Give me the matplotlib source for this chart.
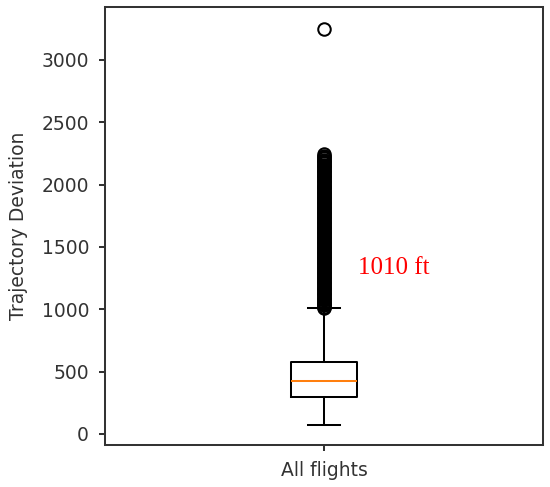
import matplotlib.pyplot as plt

# Box statistics
label = 'All flights'
q1 = 295
median = 428
q3 = 580
whisker_low = 68
whisker_high = 1012

# Outliers: dense column from ~1010 to ~2245 plus one point near 3250
fliers = [1010, 1020, 1030, 1040, 1050, 1060, 1070, 1080, 1090, 1100,
          1110, 1120, 1130, 1140, 1150, 1160, 1170, 1180, 1190, 1200,
          1210, 1220, 1230, 1240, 1250, 1260, 1270, 1280, 1290, 1300,
          1310, 1320, 1330, 1340, 1350, 1360, 1370, 1380, 1390, 1400,
          1410, 1420, 1430, 1440, 1450, 1460, 1470, 1480, 1490, 1500,
          1510, 1520, 1530, 1540, 1550, 1560, 1570, 1580, 1590, 1600,
          1610, 1620, 1630, 1640, 1650, 1660, 1670, 1680, 1690, 1700,
          1710, 1720, 1730, 1740, 1750, 1760, 1770, 1780, 1790, 1800,
          1810, 1820, 1830, 1840, 1850, 1860, 1870, 1880, 1890, 1900,
          1910, 1920, 1930, 1940, 1950, 1960, 1970, 1980, 1990, 2000,
          2010, 2020, 2030, 2040, 2050, 2060, 2070, 2080, 2090, 2100,
          2110, 2120, 2130, 2140, 2150, 2160, 2170, 2180, 2190, 2200,
          2210, 2220, 2230, 2245,
          3250]

annotation = '1010 ft'

stats = [dict(label=label, q1=q1, med=median, q3=q3,
              whislo=whisker_low, whishi=whisker_high, fliers=fliers)]

lw = 1.45
fig = plt.figure(figsize=(5.5, 4.87), dpi=100)
ax = fig.add_axes([0.191, 0.086, 0.796, 0.900])
ax.bxp(stats,
       boxprops=dict(linewidth=lw, color='black'),
       whiskerprops=dict(linewidth=lw, color='black'),
       capprops=dict(linewidth=lw, color='black'),
       medianprops=dict(linewidth=lw, color='#ff7f0e'),
       flierprops=dict(marker='o', markersize=9, markeredgewidth=lw,
                       markerfacecolor='none', markeredgecolor='black'))

ax.set_ylim(-90, 3425)
ax.set_xlim(0.5, 1.5)
ax.set_ylabel('Trajectory Deviation', fontsize=13.5, color='#333333',
              labelpad=10)
ax.tick_params(labelsize=13.5, width=lw, length=4.5, pad=7,
               labelcolor='#333333', color='#333333')
for s in ax.spines.values():
    s.set_linewidth(lw)
    s.set_color('#333333')

ax.text(1.078, 1330, annotation, color='red', fontsize=18,
        family='Liberation Serif', va='center', ha='left')

plt.savefig('out.png', dpi=100)
